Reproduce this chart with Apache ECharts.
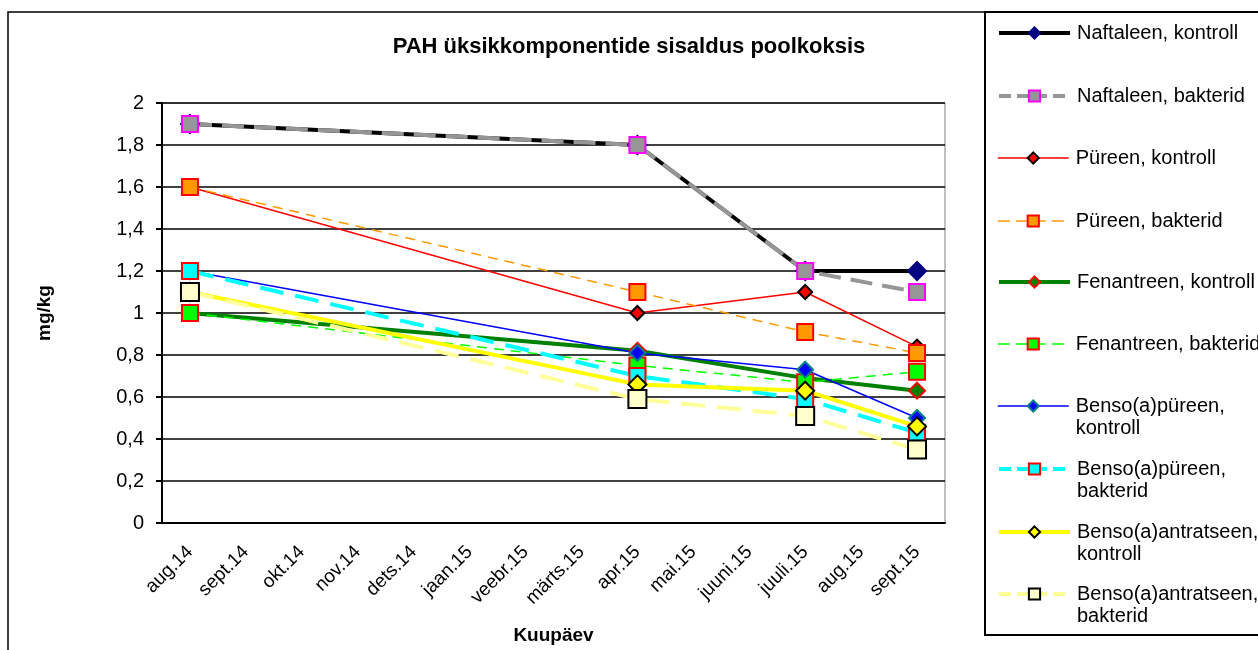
<!DOCTYPE html>
<html>
<head>
<meta charset="utf-8">
<script src="https://cdn.jsdelivr.net/npm/echarts@6/dist/echarts.min.js"></script>
<style>
  html, body { margin: 0; padding: 0; background: #fff; }
  #chart { width: 1258px; height: 650px; }
</style>
</head>
<body>
<div id="chart"></div>
<script>
// kuud x-teljel
const months = ['aug.14', 'sept.14', 'okt.14', 'nov.14', 'dets.14', 'jaan.15', 'veebr.15',
  'märts.15', 'apr.15', 'mai.15', 'juuni.15', 'juuli.15', 'aug.15', 'sept.15'];
// proovivõtu kuud
const sampleMonths = ['aug.14', 'apr.15', 'juuli.15', 'sept.15'];

const naftaleenKontroll = [1.9, 1.8, 1.2, 1.2];
const naftaleenBakterid = [1.9, 1.8, 1.2, 1.1];
const pyreenKontroll = [1.6, 1.0, 1.1, 0.84];
const pyreenBakterid = [1.6, 1.1, 0.91, 0.81];
const fenantreenKontroll = [1.0, 0.82, 0.69, 0.63];
const fenantreenBakterid = [1.0, 0.75, 0.67, 0.72];
const bensoPyreenKontroll = [1.2, 0.81, 0.73, 0.5];
const bensoPyreenBakterid = [1.2, 0.7, 0.59, 0.43];
const bensoAntrKontroll = [1.1, 0.66, 0.63, 0.46];
const bensoAntrBakterid = [1.1, 0.59, 0.51, 0.35];

const yTicks = [0, 0.2, 0.4, 0.6, 0.8, 1, 1.2, 1.4, 1.6, 1.8, 2];

const FONT = '"Liberation Sans", Arial, sans-serif';

function toMonths(vals) {
  return months.map(m => {
    const i = sampleMonths.indexOf(m);
    return i >= 0 ? vals[i] : null;
  });
}

// nimi, legendi tekst, väärtused, joon, marker
const seriesDefs = [
  ['Naftaleen, kontroll', 'Naftaleen, kontroll', naftaleenKontroll,
    { color: '#000000', width: 4, type: 'solid' }, { symbol: 'diamond', size: 18, fill: '#000080', border: '#000080' }],
  ['Naftaleen, bakterid', 'Naftaleen, bakterid', naftaleenBakterid,
    { color: '#969696', width: 4, type: [22, 10] }, { symbol: 'rect', size: 16, fill: '#969696', border: '#ff00ff' }],
  ['Püreen, kontroll', 'Püreen, kontroll', pyreenKontroll,
    { color: '#ff0000', width: 1.5, type: 'solid' }, { symbol: 'diamond', size: 14, fill: '#ff0000', border: '#000000' }],
  ['Püreen, bakterid', 'Püreen, bakterid', pyreenBakterid,
    { color: '#ff9900', width: 1.5, type: [10, 7] }, { symbol: 'rect', size: 16, fill: '#ff9900', border: '#ff0000' }],
  ['Fenantreen, kontroll', 'Fenantreen, kontroll', fenantreenKontroll,
    { color: '#008000', width: 4, type: 'solid' }, { symbol: 'diamond', size: 16, fill: '#008000', border: '#ff0000' }],
  ['Fenantreen, bakterid', 'Fenantreen, bakterid', fenantreenBakterid,
    { color: '#00ff00', width: 1.5, type: [10, 7] }, { symbol: 'rect', size: 16, fill: '#00ff00', border: '#ff0000' }],
  ['Benso(a)püreen, kontroll', '\nBenso(a)püreen,\nkontroll', bensoPyreenKontroll,
    { color: '#0000ff', width: 1.5, type: 'solid' }, { symbol: 'diamond', size: 16, fill: '#0000ff', border: '#008080' }],
  ['Benso(a)püreen, bakterid', '\nBenso(a)püreen,\nbakterid', bensoPyreenBakterid,
    { color: '#00ffff', width: 4, type: [24, 12] }, { symbol: 'rect', size: 16, fill: '#00ffff', border: '#ff0000' }],
  ['Benso(a)antratseen, kontroll', '\nBenso(a)antratseen,\nkontroll', bensoAntrKontroll,
    { color: '#ffff00', width: 4, type: 'solid' }, { symbol: 'diamond', size: 18, fill: '#ffff00', border: '#000000' }],
  ['Benso(a)antratseen, bakterid', '\nBenso(a)antratseen,\nbakterid', bensoAntrBakterid,
    { color: '#ffff99', width: 4, type: [24, 12] }, { symbol: 'rect', size: 18, fill: '#ffffcc', border: '#000000' }]
];

// legendi ikoonide keskpunktid (y)
const legendCenters = [32, 95, 157, 220, 281, 343, 405, 468, 531, 593];

var myChart = echarts.init(document.getElementById('chart'));

const series = seriesDefs.map(d => ({
  name: d[0],
  type: 'line',
  data: toMonths(d[2]),
  connectNulls: true,
  symbol: d[4].symbol,
  symbolSize: d[4].size,
  showAllSymbol: true,
  lineStyle: { color: d[3].color, width: d[3].width, type: d[3].type },
  itemStyle: { color: d[4].fill, borderColor: d[4].border, borderWidth: 2 },
  emphasis: { disabled: true },
  animation: false
}));

const legends = seriesDefs.map((d, i) => {
  const lines = d[1].split('\n').length;
  return {
    data: [d[0]],
    left: 997,
    top: legendCenters[i] - lines * 11 + 1,
    padding: 0,
    itemWidth: 71,
    itemHeight: 14,
    itemGap: 0,
    selectedMode: false,
    formatter: () => d[1],
    lineStyle: { width: d[3].width, type: d[3].type === 'solid' ? 'solid' : [12, 6] },
    textStyle: { fontFamily: FONT, fontSize: 20, color: '#000', lineHeight: 22, padding: [0, 0, 0, 2] }
  };
});

var option = {
  backgroundColor: '#fff',
  animation: false,
  title: {
    text: 'PAH üksikkomponentide sisaldus poolkoksis',
    left: 'center',
    top: 31,
    textStyle: { fontFamily: FONT, fontSize: 22, fontWeight: 'bold', color: '#000' }
  },
  legend: legends,
  grid: {
    left: 162, right: 313, top: 103, bottom: 127,
    outerBoundsMode: 'none',
    containLabel: false,
    show: true, borderColor: '#808080', borderWidth: 1, backgroundColor: 'transparent'
  },
  xAxis: {
    type: 'category',
    data: months,
    boundaryGap: true,
    name: 'Kuupäev',
    nameLocation: 'middle',
    nameGap: 103,
    nameTextStyle: { fontFamily: FONT, fontSize: 19, fontWeight: 'bold', color: '#000' },
    axisLine: { lineStyle: { color: '#000', width: 2 } },
    axisTick: { length: 7, lineStyle: { color: '#000', width: 2 } },
    axisLabel: { rotate: 45, interval: 0, fontFamily: FONT, fontSize: 19, color: '#000', margin: 26 },
    splitLine: { show: false }
  },
  yAxis: {
    type: 'value',
    min: yTicks[0],
    max: yTicks[yTicks.length - 1],
    interval: 0.2,
    name: 'mg/kg',
    nameLocation: 'middle',
    nameRotate: 90,
    nameGap: 108,
    nameTextStyle: { fontFamily: FONT, fontSize: 19, fontWeight: 'bold', color: '#000' },
    axisLine: { show: true, lineStyle: { color: '#000', width: 2 } },
    axisTick: { show: true, length: 6, lineStyle: { color: '#000', width: 2 } },
    axisLabel: {
      fontFamily: FONT, fontSize: 20, color: '#000', margin: 18,
      formatter: v => String(Math.round(v * 10) / 10).replace('.', ',')
    },
    splitLine: { lineStyle: { color: '#000', width: 1.5 } }
  },
  graphic: [
    { type: 'rect', shape: { x: 8, y: 12, width: 1400, height: 800 },
      style: { fill: 'none', stroke: '#000', lineWidth: 1.5 }, silent: true },
    { type: 'rect', shape: { x: 985, y: 12, width: 400, height: 623 },
      style: { fill: 'none', stroke: '#000', lineWidth: 2 }, silent: true }
  ],
  series: series
};

myChart.setOption(option);
window.addEventListener('resize', function () { myChart.resize(); });
</script>
</body>
</html>
